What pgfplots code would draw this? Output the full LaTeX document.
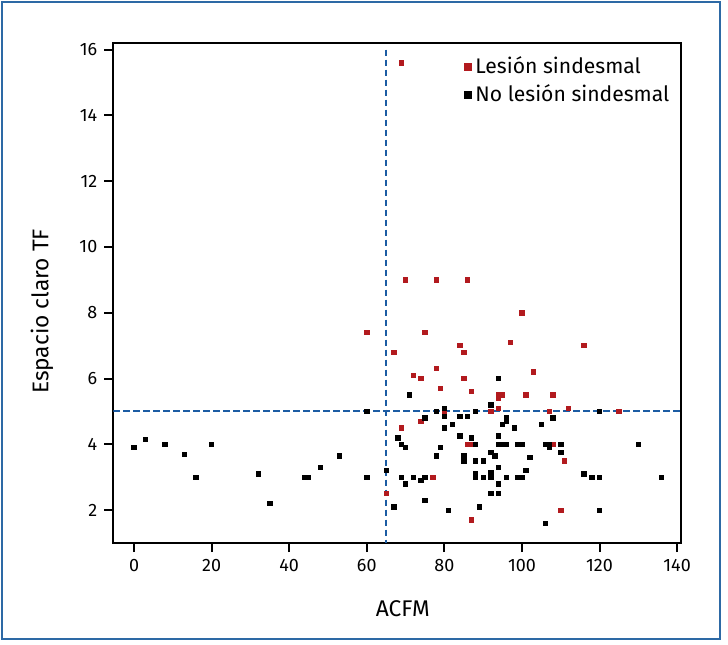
\documentclass[border=0pt]{standalone}
\usepackage{fontspec}
\setmainfont{Fira Sans}
\usepackage{pgfplots}
\pgfplotsset{compat=1.18}

\definecolor{lesion}{RGB}{178,26,30}
\definecolor{guide}{RGB}{28,92,163}
\definecolor{outerframe}{RGB}{45,105,165}

\begin{document}
\begin{tikzpicture}[x=1bp,y=1bp]
\path[use as bounding box] (0,0) rectangle (364,322.5);
\draw[outerframe, line width=1bp] (1,3) rectangle (360,321.5);
\begin{axis}[
    at={(56.65bp,51bp)}, anchor=south west,
    scale only axis,
    width=283.85bp, height=250bp,
    xmin=-5.34, xmax=141,
    ymin=1.0, ymax=16.2,
    xtick={0,20,...,140},
    ytick={2,4,...,16},
    xtick pos=bottom, ytick pos=left,
    tick align=outside,
    major tick length=4.5bp,
    every tick/.style={black, line width=1bp},
    axis line style={black, line width=1.1bp},
    /pgf/number format/assume math mode=true,
    tick label style={font=\fontsize{9}{10}\selectfont},
    label style={font=\fontsize{11.4}{13}\selectfont},
    xlabel={ACFM},
    xlabel style={at={(axis description cs:0.51,-0.132)}, anchor=center},
    ylabel={Espacio claro TF},
    ylabel style={at={(axis description cs:-0.1256,0.463)}, anchor=center},
    legend style={
        at={(0.614,0.985)}, anchor=north west,
        draw=none, fill=none,
        font=\fontsize{10.6}{11}\selectfont,
        row sep=0pt,
        inner sep=1bp,
    },
    legend cell align=left,
    legend image code/.code={\draw[#1, mark size=1.8bp] plot coordinates {(0.12cm,0cm)};},
]

% cut-off guide lines
\addplot[guide, line width=1bp, dash pattern=on 3.3bp off 1.7bp, forget plot]
    coordinates {(65,16) (65,1.0)};
\addplot[guide, line width=1bp, dash pattern=on 3.3bp off 1.7bp, forget plot]
    coordinates {(-5.34,5) (141,5)};

% Lesion sindesmal
\addplot[only marks, mark=square*, mark size=1.1bp, lesion] coordinates {
    (69,15.6) (70,9) (78,9) (86,9) (100,8) (60,7.4) (75,7.4) (97,7.1)
    (116,7) (84,7) (67,6.8) (85,6.8) (78,6.3) (103,6.2) (72,6.1) (74,6)
    (85,6) (79,5.7) (87,5.6) (94,5.5) (95,5.5) (101,5.5) (108,5.5) (94,5.4)
    (94,5.1) (112,5.1) (92,5) (80,5) (107,5) (125,5) (74,4.7) (69,4.5)
    (86,4) (87,4) (108,4) (111,3.5) (77,3) (65,2.5) (110,2) (87,1.7)
};
\addlegendentry{Lesión sindesmal}

% No lesion sindesmal
\addplot[only marks, mark=square*, mark size=1.1bp, black] coordinates {
    (0,3.9) (3,4.15) (8,4) (13,3.7) (16,3) (20,4) (32,3.1) (35,2.2)
    (44,3) (45,3) (48,3.3) (53,3.65)
    (60,5) (60,3) (65,3.2) (67,2.1) (68,4.2) (69,4) (69,3) (70,3.9)
    (70,2.8) (71,5.5) (72,3) (74,2.9) (75,3) (75,2.3) (75,4.8)
    (78,5) (78,3.65) (79,3.9) (80,5.1) (80,4.85) (80,4.5) (81,2) (82,4.6)
    (84,4.85) (84,4.25) (85,3.65) (85,3.5) (86,4.85) (87,4.2) (88,5)
    (88,4) (88,3.5) (88,3.1) (88,3) (89,2.1) (90,3.5) (90,3)
    (92,5.2) (92,3.75) (92,3.15) (92,3) (92,2.5) (93,3.65) (94,6)
    (94,4.25) (94,4) (94,3.3) (94,2.8) (94,2.5) (95,4) (95,4.6) (96,4)
    (96,4.7) (96,4.8) (96,3) (98,4.5) (99,4) (99,3) (100,4) (100,3)
    (101,3.2) (102,3.6)
    (105,4.6) (106,4) (106,1.6) (107,4) (107,3.9) (108,4.8) (110,4)
    (110,3.75) (116,3.1) (118,3) (120,5) (120,3) (120,2) (130,4) (136,3)
};
\addlegendentry{No lesión sindesmal}

\end{axis}
\end{tikzpicture}
\end{document}
